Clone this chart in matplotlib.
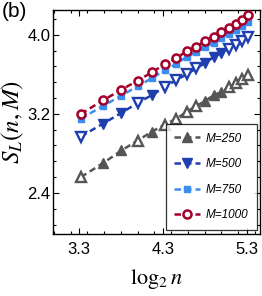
import numpy as np
import matplotlib
matplotlib.use("Agg")
import matplotlib.pyplot as plt
from matplotlib.ticker import MultipleLocator, FixedLocator

# ---- data ----
n_values = [10, 12, 14, 16, 18, 20, 22, 24, 26, 28, 30, 32, 34, 36, 38, 40]
s_m250 = [2.56, 2.70, 2.83, 2.93, 3.02, 3.09, 3.15, 3.22, 3.28, 3.33, 3.39, 3.42, 3.47, 3.51, 3.55, 3.59]
s_m500 = [2.97, 3.10, 3.21, 3.31, 3.39, 3.47, 3.54, 3.60, 3.66, 3.715, 3.775, 3.82, 3.86, 3.90, 3.94, 3.98]
s_m750 = [3.15, 3.28, 3.385, 3.48, 3.56, 3.64, 3.705, 3.775, 3.825, 3.875, 3.92, 3.97, 4.005, 4.045, 4.085, 4.13]
s_m1000 = [3.20, 3.335, 3.445, 3.535, 3.62, 3.70, 3.76, 3.835, 3.88, 3.935, 3.98, 4.03, 4.065, 4.105, 4.145, 4.195]
labels = ["M=250", "M=500", "M=750", "M=1000"]
x_ticks = [3.3, 4.3, 5.3]
y_ticks = [2.4, 3.2, 4.0]

# ---- style ----
plt.rcParams['mathtext.fontset'] = 'stix'
tick_font = ['Liberation Sans Narrow', 'Liberation Sans', 'DejaVu Sans']
colors = ['#555555', '#1f3fae', '#3a8ef0', '#a3002b']
markers = ['^', 'v', 's', 'o']
msizes = [7, 7, 4.8, 5.8]
filled_pattern = [0, 1, 1, 0, 1, 0, 0, 0, 0, 1, 1, 1, 0, 0, 0, 0]

W, H = 262, 296
fig = plt.figure(figsize=(W / 100, H / 100), dpi=100)
ax = fig.add_axes([53 / W, 1 - 234 / H, (260 - 53) / W, (234 - 10) / H])

x = np.log2(np.array(n_values, dtype=float))
series = [s_m250, s_m500, s_m750, s_m1000]
dash = (0, (2.6, 1.6))
handles = []
for i, (ys, c, m, ms, lab) in enumerate(zip(series, colors, markers, msizes, labels)):
    ys = np.array(ys)
    ax.plot(x, ys, linestyle=dash, color=c, lw=1.8, zorder=2 + i)
    if m in ('^', 'v'):
        fill = np.array(filled_pattern, dtype=bool)
        ax.plot(x[fill], ys[fill], linestyle='none', marker=m, ms=ms, color=c,
                mec=c, zorder=3 + i)
        ax.plot(x[~fill], ys[~fill], linestyle='none', marker=m, ms=ms, mfc='white',
                mec=c, mew=1.7, zorder=3 + i)
        h, = ax.plot([], [], linestyle=dash, color=c, lw=1.8, marker=m, ms=ms, label=lab)
    elif m == 'o':
        ax.plot(x, ys, linestyle='none', marker=m, ms=ms, mfc='white', mec=c,
                mew=1.8, zorder=3 + i)
        h, = ax.plot([], [], linestyle=dash, color=c, lw=1.8, marker=m, ms=ms,
                     mfc='white', mec=c, mew=1.8, label=lab)
    else:
        ax.plot(x, ys, linestyle='none', marker=m, ms=ms, color=c, zorder=3 + i)
        h, = ax.plot([], [], linestyle=dash, color=c, lw=1.8, marker=m, ms=ms, label=lab)
    handles.append(h)

ax.set_xlim(2.99, 5.46)
ax.set_ylim(1.985, 4.25)
ax.xaxis.set_major_locator(FixedLocator(x_ticks))
ax.yaxis.set_major_locator(FixedLocator(y_ticks))
ax.xaxis.set_minor_locator(MultipleLocator(0.2))
ax.yaxis.set_minor_locator(MultipleLocator(0.16))
ax.set_xticklabels([f"{v:.1f}" for v in x_ticks], family=tick_font, fontsize=12)
ax.set_yticklabels([f"{v:.1f}" for v in y_ticks], family=tick_font, fontsize=12)
ax.tick_params(which='both', direction='in', top=True, right=True, width=0.8)
ax.tick_params(which='major', length=4)
ax.tick_params(which='minor', length=2)
ax.tick_params(axis='x', pad=6)
ax.tick_params(axis='y', pad=2)
for sp in ax.spines.values():
    sp.set_linewidth(1.0)

ax.set_xlabel(r'$\log_2 n$', fontsize=16, labelpad=7)
ax.set_ylabel(r'$S_L(n, M)$', fontsize=18, labelpad=1)

leg = ax.legend(handles, labels, loc='lower right', frameon=True, fancybox=False,
                edgecolor='black', prop={'family': tick_font, 'style': 'italic', 'size': 8.5},
                handlelength=2.2, handletextpad=0.5, borderpad=0.7, labelspacing=1.15,
                bbox_to_anchor=(0.985, 0.02), borderaxespad=0)
leg.get_frame().set_linewidth(0.9)

fig.text(2 / W, 1 - 2 / H, '(b)', ha='left', va='top', fontsize=15, family=tick_font)

fig.savefig('out.png', dpi=100)
